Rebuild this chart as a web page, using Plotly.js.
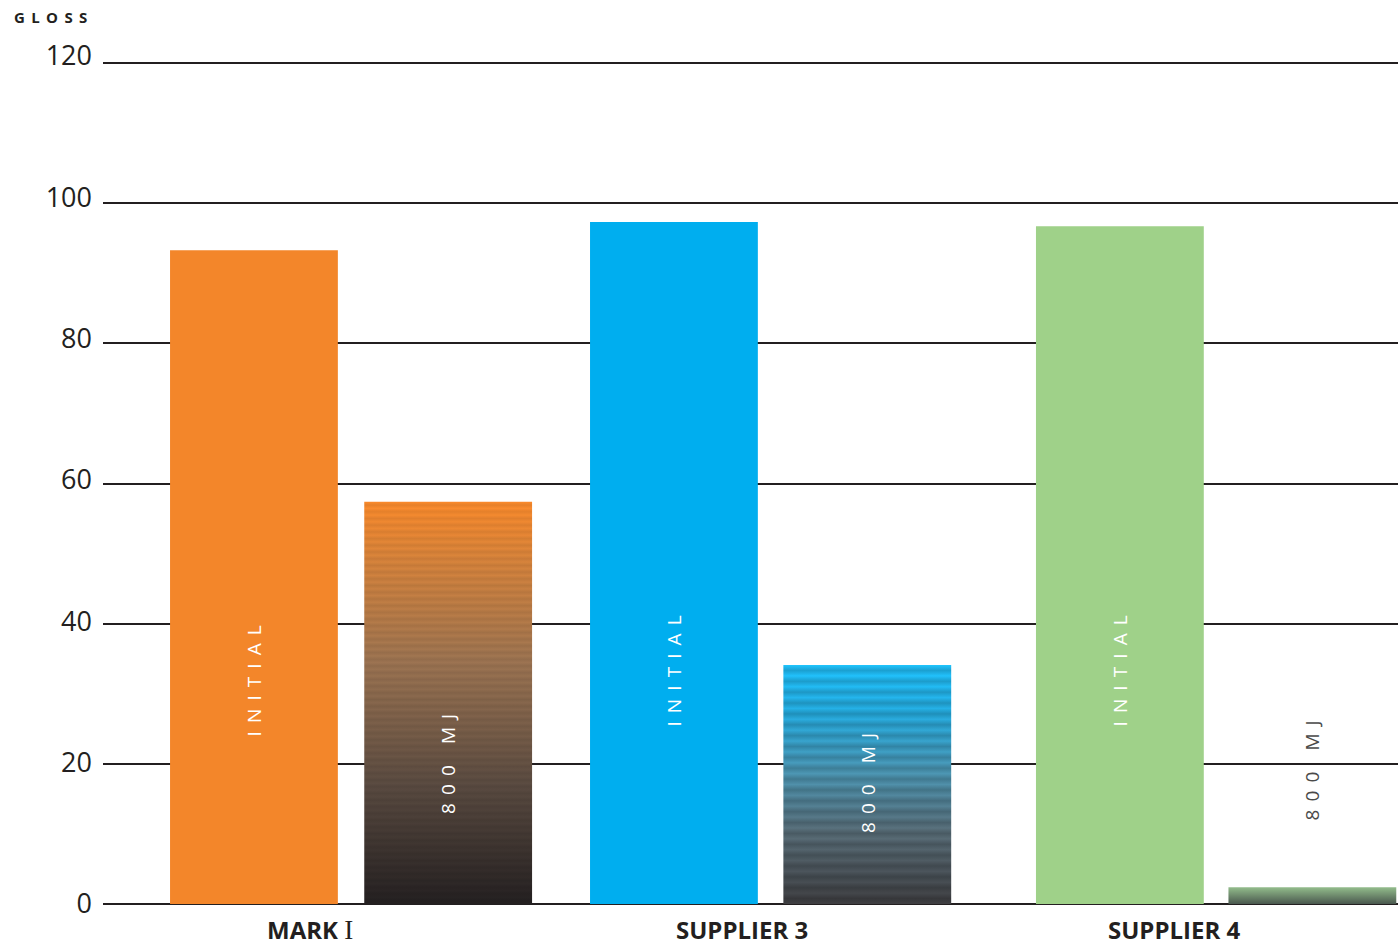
<!DOCTYPE html>
<html>
<head>
<meta charset="utf-8">
<script src="https://cdn.plot.ly/plotly-3.0.1.min.js"></script>
<style>
html,body{margin:0;padding:0;background:#fff;}
#chart{width:1398px;height:948px;}
</style>
</head>
<body>
<div id="chart"></div>
<script>
// ---- data ----
const groups = ['MARK I', 'SUPPLIER 3', 'SUPPLIER 4'];
const initialValues = [93.3, 97.3, 96.7];
const after800Values = [57.4, 34.1, 2.4];
const seriesNames = ['INITIAL', '800 MJ'];
const yTicks = [0, 20, 40, 60, 80, 100, 120];

// ---- styles ----
const initialColors = ['#F3862A', '#00AEEF', '#9FD189'];
const baseScales = [
  [[0, '#231F20'], [0.3, '#58493f'], [0.6, '#97704f'], [0.85, '#cf7f3a'], [1, '#F3862A']],
  [[0, '#3a3a3d'], [0.3, '#52656f'], [0.55, '#468aa5'], [0.8, '#229fcf'], [1, '#1DB4EB']],
  [[0, '#4a584e'], [1, '#93bd8c']]
];
const bandCount = [60, 22, 0];
const bandAmp = [0.04, 0.10, 0];
const barW = 0.388;
const offInit = [-0.418, -0.447, -0.416];
const offAfter = [0.031, 0.000, 0.029];

function hexToRgb(h) { h = h.replace('#', ''); return [0, 2, 4].map(k => parseInt(h.substr(k, 2), 16)); }
function sample(scale, t) {
  for (let k = 1; k < scale.length; k++) {
    if (t <= scale[k][0]) {
      const a = scale[k - 1], b = scale[k];
      const f = (t - a[0]) / (b[0] - a[0] || 1);
      const ca = hexToRgb(a[1]), cb = hexToRgb(b[1]);
      return ca.map((c, j) => c + (cb[j] - c) * f);
    }
  }
  return hexToRgb(scale[scale.length - 1][1]);
}
function banded(scale, n, amp) {
  if (!n) return scale;
  const out = [];
  const steps = n * 4;
  for (let s = 0; s <= steps; s++) {
    const t = s / steps;
    const c = sample(scale, t);
    const m = 1 + amp * Math.cos(t * n * 2 * Math.PI);
    const rgb = c.map(v => Math.max(0, Math.min(255, Math.round(v * m))));
    out.push([t, 'rgb(' + rgb.join(',') + ')']);
  }
  return out;
}

const xIdx = groups.map((_, i) => i);
const spaced = s => s.split('').join(' \u2009');

const traces = [];
traces.push({
  type: 'bar', x: xIdx, y: initialValues, width: barW, offset: offInit,
  marker: {color: initialColors, line: {width: 0}}, name: seriesNames[0],
  hoverinfo: 'y', showlegend: false
});
after800Values.forEach((v, i) => {
  const x0 = i + offAfter[i], x1 = i + offAfter[i] + barW;
  traces.push({
    type: 'scatter', mode: 'lines',
    x: [x0, x1, x1, x0, x0], y: [0, 0, v, v, 0],
    fill: 'toself', line: {width: 0},
    fillgradient: {type: 'vertical', colorscale: banded(baseScales[i], bandCount[i], bandAmp[i])},
    hoverinfo: 'skip', showlegend: false
  });
});
// invisible trace on the label axis so it is drawn
traces.push({type: 'scatter', mode: 'markers', x: [0], y: [0], yaxis: 'y2',
  marker: {opacity: 0}, hoverinfo: 'skip', showlegend: false});

const annotations = [];
annotations.push({
  xref: 'paper', yref: 'paper', x: 0, y: 1, xanchor: 'left', yanchor: 'middle',
  xshift: -91, yshift: 39, showarrow: false,
  text: '<b>G\u2009 L\u2009 O\u2009 S\u2009 S</b>', font: {family: 'Open Sans', size: 15, color: '#231F20'}
});
groups.forEach((g, i) => {
  let txt = '<b>' + g + '</b>';
  if (/ I$/.test(g)) {
    txt = '<b>' + g.replace(/ I$/, '') + "</b> <span style=\"font-family:'Liberation Serif';font-size:27px\">I</span>";
  }
  annotations.push({
    xref: 'x', yref: 'paper', x: i, y: 0, yanchor: 'middle', yshift: -25, xshift: -41,
    showarrow: false, text: txt,
    font: {family: 'Open Sans', size: 24, color: '#231F20'}
  });
});
const initLabelY = [31.9, 33.3, 33.3];
const afterLabelY = [20, 17.3, 19.1];
const afterLabelColor = ['#ffffff', '#ffffff', '#4a4a4a'];
groups.forEach((g, i) => {
  annotations.push({
    xref: 'x', yref: 'y', x: i + offInit[i] + barW / 2, y: initLabelY[i], showarrow: false,
    textangle: -90, text: spaced(seriesNames[0]),
    font: {family: 'Open Sans', size: 19, color: '#ffffff'}
  });
  annotations.push({
    xref: 'x', yref: 'y', x: i + offAfter[i] + barW / 2, y: afterLabelY[i], showarrow: false,
    textangle: -90, text: spaced(seriesNames[1]).replace(/0 \u2009 \u2009M/, '0 \u2009\u00a0\u00a0 \u2009M'),
    font: {family: 'Open Sans', size: 19, color: afterLabelColor[i]}
  });
});

const layout = {
  width: 1398, height: 948,
  margin: {l: 103, r: 0, t: 56, b: 44},
  paper_bgcolor: '#ffffff', plot_bgcolor: '#ffffff',
  showlegend: false,
  xaxis: {
    range: [-0.573, 2.421], showgrid: false, zeroline: false,
    showticklabels: false, ticks: '', fixedrange: true
  },
  yaxis: {
    range: [0, 121], tickvals: yTicks, showticklabels: false,
    showgrid: true, gridcolor: '#231F20', gridwidth: 2,
    zeroline: true, zerolinecolor: '#231F20', zerolinewidth: 2.5,
    ticks: '', fixedrange: true
  },
  yaxis2: {
    overlaying: 'y', side: 'left', range: [0, 120],
    tickvals: yTicks, ticktext: yTicks.map(String),
    showgrid: false, zeroline: false, showline: false, ticks: '',
    ticklabelstandoff: 10,
    tickfont: {family: 'Open Sans', size: 27, color: '#231F20'}, fixedrange: true
  },
  annotations: annotations
};

Plotly.newPlot('chart', traces, layout, {displayModeBar: false, staticPlot: true});
</script>
</body>
</html>
